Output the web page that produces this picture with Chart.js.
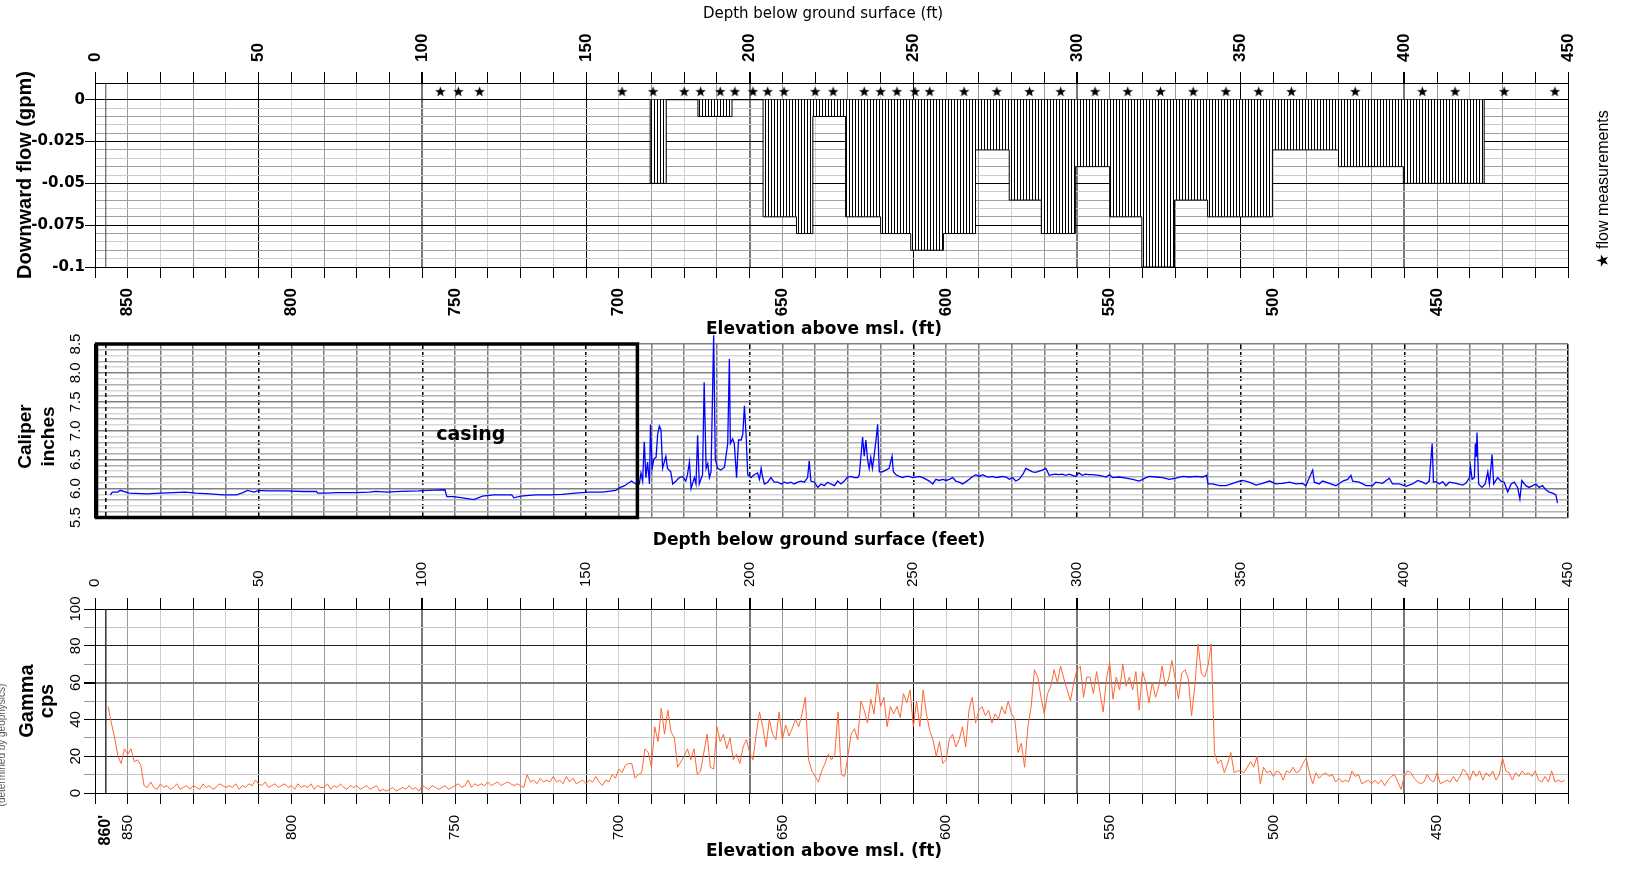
<!DOCTYPE html>
<html>
<head>
<meta charset="utf-8">
<title>Flow, caliper and gamma logs</title>
<script src="https://cdn.jsdelivr.net/npm/chart.js@4.4.1/dist/chart.umd.min.js"></script>
<style>
  body { margin: 0; background: #fff; width: 1625px; height: 870px; overflow: hidden; position: relative; }
  canvas { position: absolute; left: 0; }
</style>
</head>
<body>
<canvas id="flowChart" width="1625" height="340" style="top:0;width:1625px;height:340px"></canvas>
<canvas id="caliperChart" width="1625" height="215" style="top:320px;width:1625px;height:215px"></canvas>
<canvas id="gammaChart" width="1625" height="340" style="top:530px;width:1625px;height:340px"></canvas>
<script>
// Depth axis (ft below ground) and elevation axis (ft above msl)
const DEPTH_MIN = 0;
const DEPTH_MAX = 450;
const ELEV_AT_SURFACE = 860;

// Downward flow intervals (depth from / to, gpm)
const FLOW_FROM = [169.6, 184.2, 204.1, 214.3, 219.3, 229.3, 240.0, 249.2, 259.2, 269.0, 279.3,
  289.1, 299.5, 310.0, 319.8, 329.8, 339.9, 350.0, 359.7, 379.9, 399.7];
const FLOW_TO = [174.5, 194.6, 214.3, 219.3, 229.3, 240.0, 249.2, 259.2, 269.0, 279.3, 289.1,
  299.5, 310.0, 319.8, 329.8, 339.9, 350.0, 359.7, 379.9, 399.7, 424.4];
const FLOW_GPM = [-0.05, -0.01, -0.07, -0.08, -0.01, -0.07, -0.08, -0.09, -0.08, -0.03, -0.06,
  -0.08, -0.04, -0.07, -0.1, -0.06, -0.07, -0.07, -0.03, -0.04, -0.05];

// Flow measurement depths (stars)
const STAR_DEPTH = [105.5, 111, 117.5, 161, 170.5, 180, 185, 191, 195.5, 201, 205.5, 210.5, 220,
  225.5, 235, 240, 245, 250.5, 255, 265.5, 275.5, 285.5, 295, 305.5, 315.5, 325.5, 335.5, 345.5,
  355.5, 365.5, 385, 405.5, 415.5, 430.5, 446];
const STAR_LEVEL = 0.005;

// Caliper log (depth ft, inches)
const CALIPER_DEPTH = [4.7, 5.3, 7.0, 7.7, 10.4, 15.9, 20.0, 24.1, 27.5, 30.9, 35.0, 39.1, 43.2, 45.2,
  46.6, 48.6, 50.0, 52.7, 58.1, 63.6, 67.7, 68.0, 70.2, 74.3, 79.7, 83.8, 85.8, 89.2, 93.3, 98.7,
  101.4, 106.9, 107.5, 109.6, 112.3, 115.7, 118.4, 121.8, 127.3, 128.0, 130.0, 134.6, 138.7, 142.7,
  146.8, 150.9, 155.0, 159.1, 160.5, 161.8, 163.9, 164.6, 165.3, 166.3, 166.8, 167.3, 167.8, 168.3,
  168.8, 169.4, 169.7, 170.2, 170.7, 171.4, 171.9, 172.4, 172.9, 173.4, 174.4, 174.9, 175.9, 176.5,
  177.5, 178.5, 179.5, 180.5, 181.0, 181.6, 182.1, 183.1, 183.6, 184.1, 184.6, 185.6, 186.1, 186.7,
  187.2, 187.7, 188.2, 189.0, 189.5, 190.2, 191.2, 192.3, 193.3, 193.8, 194.1, 194.8, 195.3, 196.0,
  196.6, 197.4, 197.9, 198.4, 198.9, 199.4, 200.4, 201.4, 202.4, 203.0, 203.5, 204.0, 204.5, 205.5,
  206.5, 207.5, 208.6, 209.6, 210.6, 211.6, 212.6, 213.6, 214.7, 215.7, 216.7, 217.7, 218.2, 218.7,
  219.8, 220.8, 221.8, 222.8, 223.8, 224.8, 225.9, 226.9, 227.9, 228.9, 229.9, 231.0, 232.0, 233.0,
  233.5, 234.5, 235.0, 235.5, 236.0, 236.5, 237.0, 237.5, 238.0, 238.6, 239.1, 239.6, 240.6, 241.6,
  242.6, 243.5, 243.9, 244.7, 245.7, 246.7, 247.7, 248.8, 249.8, 250.8, 251.8, 252.9, 253.9, 254.9,
  255.9, 256.9, 257.9, 259.0, 260.0, 261.0, 262.0, 263.0, 264.0, 265.1, 266.1, 267.1, 268.1, 269.1,
  270.1, 271.2, 272.2, 273.2, 274.2, 275.2, 276.3, 277.3, 278.3, 279.3, 280.3, 281.3, 282.3, 283.4,
  284.4, 285.4, 286.4, 287.4, 288.4, 289.4, 290.5, 291.5, 292.5, 293.5, 294.5, 295.5, 296.6, 297.6,
  298.6, 299.6, 300.6, 301.6, 302.6, 303.6, 304.8, 306.8, 308.9, 309.9, 310.9, 312.9, 315.0, 317.0,
  319.0, 321.1, 322.1, 324.1, 326.2, 328.2, 330.2, 332.3, 334.3, 336.3, 338.4, 339.6, 340.0, 341.4,
  343.5, 345.5, 347.6, 349.6, 350.6, 352.6, 354.7, 356.7, 358.8, 360.8, 362.8, 364.9, 366.9, 368.9,
  369.9, 372.0, 372.5, 374.0, 375.0, 377.1, 379.1, 381.2, 382.7, 383.7, 384.2, 386.2, 388.3, 390.3,
  391.3, 393.3, 395.4, 396.4, 398.5, 400.5, 402.5, 404.1, 405.6, 406.6, 407.6, 408.5, 408.9, 409.7,
  410.7, 411.7, 412.7, 413.7, 415.8, 417.8, 418.8, 419.9, 420.2, 420.7, 421.4, 421.7, 422.0, 422.2,
  422.7, 423.7, 424.7, 425.5, 426.0, 426.8, 427.3, 428.5, 429.5, 430.5, 431.6, 432.6, 433.6, 434.6,
  435.3, 435.9, 437.1, 438.1, 439.2, 440.2, 441.2, 442.2, 443.2, 444.3, 445.3, 446.3, 446.8];
const CALIPER_INCHES = [5.89, 5.94, 5.94, 5.97, 5.92, 5.91, 5.92, 5.93, 5.94, 5.92, 5.91, 5.89, 5.89, 5.93,
  5.97, 5.94, 5.97, 5.96, 5.96, 5.95, 5.95, 5.92, 5.92, 5.93, 5.93, 5.94, 5.95, 5.94, 5.95, 5.96,
  5.97, 5.98, 5.86, 5.86, 5.84, 5.81, 5.87, 5.89, 5.89, 5.84, 5.87, 5.89, 5.89, 5.90,
  5.92, 5.94, 5.94, 5.97, 6.02, 6.05, 6.13, 6.10, 6.08, 6.08, 6.27, 6.13, 6.81, 6.19,
  6.46, 6.08, 7.11, 6.35, 6.51, 6.54, 6.94, 7.08, 7.02, 6.35, 6.56, 6.35, 6.29, 6.08,
  6.13, 6.19, 6.21, 6.13, 6.24, 6.46, 6.00, 6.19, 6.08, 6.92, 6.08, 6.24, 7.84, 6.35,
  6.43, 6.19, 6.29, 8.65, 6.51, 6.35, 6.32, 6.37, 6.78, 8.24, 6.78, 6.86, 6.78, 6.19,
  6.84, 6.84, 6.94, 7.43, 6.94, 6.24, 6.19, 6.24, 6.27, 6.16, 6.35, 6.19, 6.08, 6.11,
  6.19, 6.11, 6.11, 6.08, 6.11, 6.09, 6.11, 6.08, 6.11, 6.13, 6.11, 6.19, 6.48, 6.13,
  6.11, 6.02, 6.08, 6.05, 6.11, 6.08, 6.05, 6.13, 6.08, 6.13, 6.20, 6.21, 6.19, 6.19,
  6.24, 6.89, 6.56, 6.84, 6.51, 6.35, 6.54, 6.35, 6.56, 6.84, 7.11, 6.29, 6.29, 6.32,
  6.35, 6.56, 6.29, 6.24, 6.21, 6.19, 6.21, 6.21, 6.19, 6.20, 6.21, 6.19, 6.16, 6.13,
  6.08, 6.16, 6.14, 6.16, 6.14, 6.16, 6.19, 6.13, 6.11, 6.08, 6.12, 6.16, 6.21, 6.24,
  6.21, 6.24, 6.21, 6.20, 6.21, 6.19, 6.20, 6.21, 6.20, 6.16, 6.19, 6.13, 6.16, 6.24,
  6.35, 6.32, 6.29, 6.28, 6.30, 6.32, 6.35, 6.23, 6.24, 6.25, 6.24, 6.25, 6.23, 6.25,
  6.23, 6.21, 6.27, 6.23, 6.25, 6.24, 6.24, 6.23, 6.20, 6.24, 6.19, 6.20, 6.18, 6.16,
  6.13, 6.19, 6.21, 6.20, 6.19, 6.16, 6.18, 6.21, 6.20, 6.21, 6.20, 6.23, 6.08, 6.08,
  6.05, 6.05, 6.09, 6.13, 6.14, 6.11, 6.06, 6.09, 6.13, 6.08, 6.09, 6.11, 6.08, 6.09,
  6.05, 6.32, 6.11, 6.08, 6.13, 6.09, 6.05, 6.13, 6.16, 6.23, 6.13, 6.11, 6.05, 6.05,
  6.11, 6.09, 6.18, 6.08, 6.08, 6.04, 6.08, 6.14, 6.11, 6.08, 6.13, 6.78, 6.11, 6.12,
  6.08, 6.12, 6.05, 6.11, 6.09, 6.06, 6.09, 6.19, 6.38, 6.16, 6.19, 6.78, 6.55, 6.97,
  6.08, 6.02, 6.08, 6.29, 6.08, 6.59, 6.08, 6.19, 6.13, 6.11, 5.94, 6.08, 6.11, 6.02,
  5.82, 6.14, 6.05, 6.02, 6.05, 6.08, 6.02, 6.05, 5.98, 5.94, 5.92, 5.89, 5.75];

// Gamma log, one reading per foot starting at GAMMA_START ft depth (cps)
const GAMMA_START = 4;
const GAMMA_CPS = [47, 38, 30, 20, 16, 24,
  21, 24, 17, 18, 15, 4, 3, 6, 3, 2,
  5, 3, 4, 2, 3, 5, 2, 3, 4, 2,
  4, 3, 2, 5, 3, 4, 2, 3, 5, 4,
  3, 4, 3, 5, 2, 4, 3, 5, 4, 7,
  5, 4, 6, 3, 4, 5, 3, 4, 5, 3,
  4, 2, 5, 3, 4, 3, 5, 2, 4, 3,
  3, 5, 2, 4, 3, 5, 3, 2, 4, 3,
  4, 2, 3, 4, 2, 3, 4, 1, 2, 1,
  2, 3, 1, 2, 3, 2, 4, 2, 3, 1,
  4, 3, 2, 4, 3, 2, 3, 4, 2, 3,
  4, 5, 3, 4, 7, 3, 5, 4, 5, 4,
  6, 4, 5, 6, 4, 5, 6, 5, 4, 5,
  4, 3, 10, 6, 7, 5, 8, 6, 7, 6,
  9, 6, 7, 5, 9, 6, 8, 5, 6, 7,
  5, 7, 6, 9, 6, 4, 7, 6, 10, 8,
  13, 11, 15, 16, 16, 8, 10, 11, 24, 22,
  14, 36, 28, 46, 32, 45, 33, 30, 14, 17,
  20, 24, 18, 24, 10, 12, 22, 32, 14, 13,
  36, 28, 32, 24, 30, 18, 21, 16, 25, 29,
  22, 18, 32, 44, 36, 25, 40, 32, 29, 44,
  29, 37, 31, 35, 40, 36, 43, 52, 18, 12,
  9, 6, 12, 16, 21, 18, 21, 44, 10, 9,
  20, 32, 35, 29, 50, 45, 38, 51, 43, 60,
  47, 52, 36, 47, 43, 47, 41, 54, 49, 56,
  36, 50, 36, 56, 43, 34, 29, 20, 28, 16,
  18, 29, 32, 25, 29, 36, 25, 45, 52, 38,
  45, 47, 42, 45, 38, 43, 40, 47, 43, 50,
  43, 40, 22, 27, 14, 36, 47, 67, 63, 52,
  43, 54, 58, 67, 60, 69, 62, 56, 50, 60,
  67, 69, 52, 63, 63, 54, 66, 55, 44, 62,
  71, 51, 63, 56, 70, 58, 63, 56, 66, 45,
  66, 60, 49, 60, 52, 58, 69, 58, 62, 72,
  62, 51, 65, 67, 62, 42, 58, 81, 65, 63,
  69, 81, 22, 16, 18, 11, 16, 22, 11, 12,
  12, 11, 14, 17, 14, 20, 5, 14, 11, 12,
  9, 12, 11, 7, 12, 11, 14, 11, 12, 16,
  19, 11, 5, 11, 8, 10, 11, 9, 10, 6,
  8, 6, 7, 6, 12, 9, 10, 5, 6, 7,
  5, 7, 5, 7, 4, 7, 9, 10, 6, 2,
  9, 12, 11, 8, 6, 5, 6, 10, 7, 6,
  11, 5, 6, 7, 6, 9, 6, 9, 13, 11,
  7, 12, 9, 12, 7, 11, 9, 12, 7, 10,
  19, 12, 11, 7, 11, 9, 12, 10, 11, 9,
  12, 7, 6, 9, 6, 12, 6, 7, 6, 7];

// Annotations that are not data
const CASING_BOTTOM = 165.7;   // ft
const LOG_START = 3.3;         // ft, thin line at start of logs

Chart.defaults.font.family = '"Liberation Sans", Arial, sans-serif';
Chart.defaults.color = '#000';

// Filled five-point star used as point style
function makeStar(size) {
  const c = document.createElement('canvas');
  c.width = size; c.height = size;
  const g = c.getContext('2d');
  const cx = size / 2, cy = size / 2 + 0.5, R = size / 2, r = R * 0.42;
  g.fillStyle = '#000';
  g.beginPath();
  for (let i = 0; i < 10; i++) {
    const a = -Math.PI / 2 + i * Math.PI / 5;
    const rad = i % 2 ? r : R;
    g.lineTo(cx + rad * Math.cos(a), cy + rad * Math.sin(a));
  }
  g.closePath();
  g.fill();
  return c;
}

// Vertical hatching for the flow bars
function makeHatch() {
  const c = document.createElement('canvas');
  c.width = 3; c.height = 4;
  const g = c.getContext('2d');
  g.fillStyle = '#fff';
  g.fillRect(0, 0, 3, 4);
  g.fillStyle = '#000';
  g.fillRect(0, 0, 1, 4);
  return g.createPattern(c, 'repeat');
}

// Outline of the flow intervals as a stepped line (step 'before': hold previous y, then jump)
function flowOutline() {
  const pts = [];
  for (let i = 0; i < FLOW_GPM.length; i++) {
    if (i === 0 || FLOW_FROM[i] > FLOW_TO[i - 1] + 0.01) pts.push({ x: FLOW_FROM[i], y: 0 });
    pts.push({ x: FLOW_FROM[i], y: FLOW_GPM[i] });
    if (i === FLOW_GPM.length - 1 || FLOW_FROM[i + 1] > FLOW_TO[i] + 0.01) pts.push({ x: FLOW_TO[i], y: 0 });
  }
  return pts;
}

// Extra lines, casing box and free text
const annotate = {
  id: 'annotate',
  beforeDatasetsDraw(chart, args, opts) {
    const { ctx, chartArea } = chart;
    const x = chart.scales.x;
    (opts.lines || []).forEach(l => {
      const px = x.getPixelForValue(l.depth);
      ctx.save();
      ctx.strokeStyle = l.color;
      ctx.lineWidth = l.width || 1;
      ctx.setLineDash(l.dash || []);
      ctx.beginPath();
      ctx.moveTo(px, chartArea.top);
      ctx.lineTo(px, chartArea.bottom);
      ctx.stroke();
      ctx.restore();
    });
  },
  afterDraw(chart, args, opts) {
    const { ctx, chartArea } = chart;
    const x = chart.scales.x;
    if (opts.box) {
      const x0 = x.getPixelForValue(opts.box.from) + 1.5;
      const x1 = x.getPixelForValue(opts.box.to);
      ctx.save();
      ctx.strokeStyle = '#000';
      ctx.lineWidth = opts.box.width;
      ctx.strokeRect(x0, chartArea.top, x1 - x0, chartArea.bottom - chartArea.top);
      ctx.restore();
    }
    (opts.texts || []).forEach(t => {
      ctx.save();
      ctx.font = t.font;
      ctx.fillStyle = t.color || '#000';
      ctx.textAlign = t.align || 'center';
      ctx.textBaseline = 'middle';
      const px = t.depth !== undefined ? x.getPixelForValue(t.depth) : t.x;
      ctx.translate(px, t.y);
      if (t.rotate) ctx.rotate(-Math.PI / 2);
      ctx.fillText(t.text, 0, 0);
      ctx.restore();
    });
  }
};

function depthGrid(c) {
  if (!c.tick) return '#000';
  const d = c.tick.value;
  if (d % 100 === 0 && d > 0 && d < DEPTH_MAX) return '#777';
  if (d % 50 === 0) return '#000';
  return (d / 10) % 2 === 1 ? '#9a9a9a' : '#cfcfcf';
}
function depthGridWidth(c) {
  if (!c.tick) return 1;
  const d = c.tick.value;
  return d % 100 === 0 && d > 0 && d < DEPTH_MAX ? 2 : 1;
}
const every50 = v => (v % 50 === 0 ? v : '');
const elevLabel = v => (v % 50 === 0 && v < ELEV_AT_SURFACE ? v : '');

// ---------- Panel 1: downward flow ----------
new Chart(document.getElementById('flowChart'), {
  type: 'line',
  data: {
    datasets: [
      {
        data: STAR_DEPTH.map(d => ({ x: d, y: STAR_LEVEL })),
        showLine: false,
        pointStyle: makeStar(11),
        pointRadius: 5,
        pointHoverRadius: 5
      },
      {
        data: flowOutline(),
        stepped: 'before',
        borderColor: '#000',
        borderWidth: 1,
        backgroundColor: makeHatch(),
        fill: 'origin',
        pointRadius: 0
      }
    ]
  },
  options: {
    responsive: false,
    animation: false,
    events: [],
    layout: { padding: { left: 0, right: 57, top: 0, bottom: 0 } },
    plugins: {
      legend: { display: false },
      tooltip: { enabled: false },
      annotate: {
        lines: [{ depth: LOG_START, color: '#444', width: 1 }],
        texts: [
          { text: 'Depth below ground surface (ft)', x: 823, y: 14.5, font: '15px "DejaVu Sans"' },
          { text: 'Elevation above msl. (ft)', x: 824, y: 329.5, font: 'bold 17px "DejaVu Sans"' },
          { text: 'Downward flow (gpm)', x: 25, y: 175, rotate: true, font: 'bold 20px "Liberation Sans"' },
          { text: '★ flow measurements', x: 1604, y: 189, rotate: true, font: '16px "Liberation Sans", "DejaVu Sans"' }
        ]
      }
    },
    scales: {
      x: {
        type: 'linear', position: 'top', min: DEPTH_MIN, max: DEPTH_MAX,
        afterFit: s => { s.height = 83; },
        ticks: {
          stepSize: 10, autoSkip: false, minRotation: 90, maxRotation: 90, padding: 10,
          labelOffset: 20.4,
          font: { size: 17, weight: 'bold' }, callback: every50
        },
        grid: { color: depthGrid, lineWidth: depthGridWidth, tickLength: 11, tickColor: '#000' },
        border: { color: '#000' }
      },
      x2: {
        type: 'linear', position: 'bottom',
        min: ELEV_AT_SURFACE - DEPTH_MAX, max: ELEV_AT_SURFACE, reverse: true,
        afterFit: s => { s.height = 73; },
        ticks: {
          stepSize: 10, autoSkip: false, minRotation: 90, maxRotation: 90, padding: 10,
          font: { size: 17, weight: 'bold' }, callback: elevLabel
        },
        grid: { drawOnChartArea: false, tickLength: 11, tickColor: '#000' },
        border: { color: '#000' }
      },
      y: {
        min: -0.1, max: 0.01,
        afterFit: s => { s.width = 95; },
        ticks: {
          stepSize: 0.005, autoSkip: false, padding: 0,
          font: { family: '"DejaVu Sans"', size: 15, weight: 'bold' },
          callback: v => (Math.round(v * 1000) % 25 === 0 ? String(Math.round(v * 1000) / 1000) : '')
        },
        grid: {
          tickLength: 10,
          color: c => {
            if (!c.tick) return '#000';
            const k = Math.round(c.tick.value * 1000);
            if (k % 25 === 0 || k === 10) return '#000';
            if (k === 5) return 'rgba(0,0,0,0)';
            return k % 10 === 0 ? '#a0a0a0' : '#cccccc';
          },
          tickColor: c => (c.tick && Math.round(c.tick.value * 1000) % 25 === 0 ? '#000' : 'rgba(0,0,0,0)')
        },
        border: { color: '#000' }
      }
    }
  },
  plugins: [annotate]
});

// ---------- Panel 2: caliper ----------
new Chart(document.getElementById('caliperChart'), {
  type: 'line',
  data: {
    datasets: [{
      data: CALIPER_DEPTH.map((d, i) => ({ x: d, y: CALIPER_INCHES[i] })),
      borderColor: '#0000ff',
      borderWidth: 1.3,
      pointRadius: 0,
      clip: false
    }]
  },
  options: {
    responsive: false,
    animation: false,
    events: [],
    layout: { padding: { left: 0, right: 57, top: 24, bottom: 6 } },
    plugins: {
      legend: { display: false },
      tooltip: { enabled: false },
      annotate: {
        lines: [{ depth: LOG_START, color: '#000', width: 1.5, dash: [4, 3] }],
        box: { from: DEPTH_MIN, to: CASING_BOTTOM, width: 3.5 },
        texts: [
          { text: 'casing', depth: 114.8, y: 115, font: 'bold 19px "DejaVu Sans"' },
          { text: 'Caliper', x: 26, y: 116.5, rotate: true, font: 'bold 19px "Liberation Sans"' },
          { text: 'inches', x: 49, y: 116.5, rotate: true, font: 'bold 19px "Liberation Sans"' }
        ]
      }
    },
    scales: {
      x: {
        type: 'linear', min: DEPTH_MIN, max: DEPTH_MAX,
        afterFit: s => { s.height = 0; },
        ticks: { display: false, stepSize: 10, autoSkip: false },
        grid: {
          drawTicks: false, lineWidth: 1.5,
          color: c => (c.tick && c.tick.value % 50 === 0 ? '#000' : '#7a7a7a')
        },
        border: { display: false, dash: c => (c.tick && c.tick.value % 50 === 0 && c.tick.value > 0 && c.tick.value < DEPTH_MAX ? [5, 3] : []) }
      },
      y: {
        min: 5.5, max: 8.5,
        afterFit: s => { s.width = 95; },
        ticks: {
          stepSize: 0.1, autoSkip: false, minRotation: 90, maxRotation: 90,
          crossAlign: 'center', padding: 8.5, font: { size: 15 },
          callback: v => (Math.round(v * 10) % 5 === 0 ? v.toFixed(1) : '')
        },
        grid: {
          drawTicks: false, lineWidth: 1.5,
          color: c => {
            if (!c.tick) return '#808080';
            const k = Math.round(c.tick.value * 10);
            if (k % 5 === 0) return '#808080';
            return k % 2 === 0 ? '#b0b0b0' : '#d8d8d8';
          }
        },
        border: { display: false }
      }
    }
  },
  plugins: [annotate]
});

// ---------- Panel 3: gamma ----------
new Chart(document.getElementById('gammaChart'), {
  type: 'line',
  data: {
    datasets: [{
      data: GAMMA_CPS.map((v, i) => ({ x: GAMMA_START + i, y: v })),
      borderColor: '#ff6633',
      borderWidth: 1,
      pointRadius: 0
    }]
  },
  options: {
    responsive: false,
    animation: false,
    events: [],
    layout: { padding: { left: 0, right: 57, top: 0, bottom: 0 } },
    plugins: {
      legend: { display: false },
      tooltip: { enabled: false },
      annotate: {
        lines: [{ depth: LOG_START, color: '#333', width: 1.5 }],
        texts: [
          { text: 'Depth below ground surface (feet)', x: 819, y: 11, font: 'bold 17px "DejaVu Sans"' },
          { text: 'Elevation above msl. (ft)', x: 824, y: 322, font: 'bold 17px "DejaVu Sans"' },
          { text: "860'", depth: LOG_START, y: 285, align: 'right', rotate: true, font: 'bold 16px "Liberation Sans"' },
          { text: 'Gamma', x: 27, y: 171, rotate: true, font: 'bold 20px "Liberation Sans"' },
          { text: 'cps', x: 47, y: 171, rotate: true, font: 'bold 20px "Liberation Sans"' },
          { text: '(determined by geophysics)', x: 2, y: 215, rotate: true, color: '#555', font: '10px "Liberation Sans"' }
        ]
      }
    },
    scales: {
      x: {
        type: 'linear', position: 'top', min: DEPTH_MIN, max: DEPTH_MAX,
        afterFit: s => { s.height = 79; },
        ticks: {
          stepSize: 10, autoSkip: false, minRotation: 90, maxRotation: 90, padding: 11,
          labelOffset: 18,
          font: { size: 15 }, callback: every50
        },
        grid: { color: depthGrid, lineWidth: depthGridWidth, tickLength: 11, tickColor: '#000' },
        border: { color: '#000' }
      },
      x2: {
        type: 'linear', position: 'bottom',
        min: ELEV_AT_SURFACE - DEPTH_MAX, max: ELEV_AT_SURFACE, reverse: true,
        afterFit: s => { s.height = 77; },
        ticks: {
          stepSize: 10, autoSkip: false, minRotation: 90, maxRotation: 90, padding: 11,
          font: { size: 15 }, callback: elevLabel
        },
        grid: { drawOnChartArea: false, tickLength: 11, tickColor: '#000' },
        border: { color: '#000' }
      },
      y: {
        min: 0, max: 100,
        afterFit: s => { s.width = 95; },
        ticks: {
          stepSize: 10, autoSkip: false, minRotation: 90, maxRotation: 90,
          crossAlign: 'center', padding: -4.5, font: { size: 15 },
          callback: v => (v % 20 === 0 ? v : '')
        },
        grid: {
          tickLength: 11,
          color: c => {
            if (!c.tick) return '#000';
            const v = c.tick.value;
            if (v === 60) return '#777';
            return v % 20 === 0 ? '#222' : '#c4c4c4';
          },
          lineWidth: c => (c.tick && c.tick.value === 60 ? 2 : 1),
          tickColor: c => (c.tick && c.tick.value % 20 === 0 ? '#000' : '#999')
        },
        border: { color: '#000' }
      }
    }
  },
  plugins: [annotate]
});
</script>
</body>
</html>
